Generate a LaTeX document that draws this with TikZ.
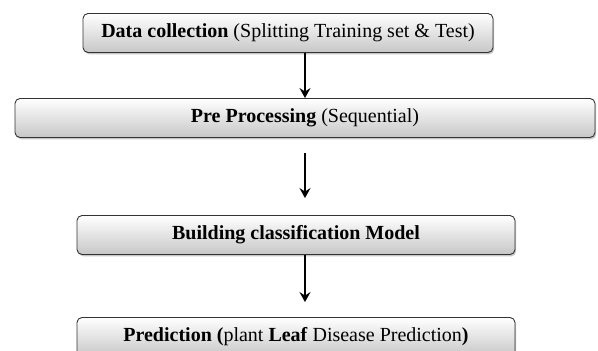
\documentclass[tikz,border=0pt]{standalone}
\usepackage{fontspec}
\setmainfont{Liberation Serif}
\usetikzlibrary{arrows.meta,shadows}
\tikzset{%
  >={Stealth[width=11pt,length=10pt,inset=3.5pt]},
            base/.style = {rectangle, rounded corners=5pt, draw=black!80, line width=0.9pt,
                           minimum height=39pt, text centered,
                           top color=white, bottom color=black!22,
                           drop shadow={shadow xshift=1.2pt, shadow yshift=-1.8pt, opacity=0.45},
                           font=\fontsize{20}{24}\selectfont},
  stage1/.style = {base, minimum width=410pt},
  stage2/.style = {base, minimum width=580pt},
  stage3/.style = {base, minimum width=438pt},
  flow/.style   = {->, line width=2.4pt},
}

\begin{document}
\begin{tikzpicture}
  \useasboundingbox (0,0) rectangle (598pt,-351pt);

  \node (onData)  [stage1] at (288pt,-33pt)  {\textbf{Data collection} (Splitting Training set \& Test)};
  \node (onPre)   [stage2] at (305pt,-118pt) {\textbf{Pre Processing} (Sequential)};
  \node (onModel) [stage3] at (296pt,-235pt) {\textbf{Building classification Model}};
  \node (onPred)  [stage3] at (296pt,-337pt) {\textbf{Prediction (}plant \textbf{Leaf} Disease Prediction\textbf{)}};

  \draw[flow] (onData.south -| onPre.north) -- (onPre.north);
  \draw[flow, shorten <=15pt, shorten >=17pt] (onPre.south) -- (onPre.south |- onModel.north);
  \draw[flow, shorten >=15pt] (onModel.south -| onPre.south) -- (onPred.north -| onPre.south);
\end{tikzpicture}
\end{document}
